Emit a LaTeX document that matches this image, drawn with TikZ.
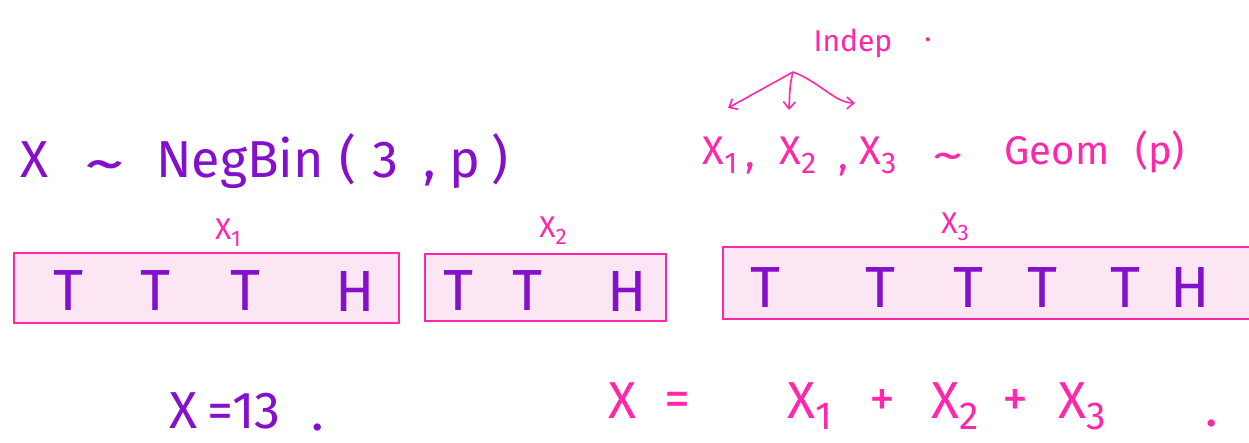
\documentclass[tikz,border=0pt]{standalone}
\usepackage{fontspec}
\usepackage{graphicx}
\setmainfont{Fira Sans}
\usetikzlibrary{arrows.meta}
\definecolor{hpurple}{RGB}{132,16,204}
\definecolor{hpink}{RGB}{255,40,170}
\definecolor{boxfill}{RGB}{253,230,244}
\newcommand\hsub[1]{\raisebox{-0.22em}{\scalebox{0.75}{#1}}}
\newcommand\htil{\raisebox{-0.25em}{\scalebox{1.6}[1.2]{\textasciitilde}}}
\begin{document}
\begin{tikzpicture}[x=1pt,y=-1pt,
  purp/.style={text=hpurple, inner sep=0pt, anchor=base},
  pinkt/.style={text=hpink, inner sep=0pt, anchor=base},
  big/.style={font=\fontsize{52}{52}\selectfont},
  mid/.style={font=\fontsize{40}{40}\selectfont},
  small/.style={font=\fontsize{30}{30}\selectfont},
  flipbox/.style={draw=hpink, fill=boxfill, line width=1.8pt, inner sep=0pt, anchor=north west},
  coin/.style={text=hpurple, inner sep=0pt, anchor=base, font=\fontsize{58}{58}\selectfont},
  arr/.style={draw=hpink, line width=1.6pt, -{Straight Barb[length=7pt,width=12pt]}}]
\useasboundingbox (0,0) rectangle (1249,443);
\fill[white] (0,0) rectangle (1249,443);

% top-left distribution
\node[purp,big] (nbX) at (35,178) {X};
\node[purp,big] (nbT) at (105,172) {\htil};
\node[purp,big] (nbN) at (240,178) {NegBin};
\node[purp,big] (nbL) at (348,178) {(};
\node[purp,big] (nb3) at (385,178) {3};
\node[purp,big] (nbC) at (430,178) {,};
\node[purp,big] (nbp) at (465,178) {p};
\node[purp,big] (nbR) at (500,178) {)};

% Indep and arrows
\node[pinkt,small] (indep) at (853,52) {Indep};
\node[pinkt,small] (indot) at (928,42) {.};
\coordinate (ia) at (793,72);
\coordinate (a1) at (728,108);
\coordinate (a2) at (789,110);
\coordinate (a3) at (855,103);
\draw[arr] (ia) -- (a1);
\draw[arr] (ia) .. controls (790,85) .. (a2);
\draw[arr] (ia) .. controls (820,82) and (835,103) .. (a3);

% geometric line
\node[pinkt,mid] (g1) at (720,165) {X\hsub{1}};
\node[pinkt,mid] (gc1) at (750,168) {,};
\node[pinkt,mid] (g2) at (798,165) {X\hsub{2}};
\node[pinkt,mid] (gc2) at (843,170) {,};
\node[pinkt,mid] (g3) at (878,165) {X\hsub{3}};
\node[pinkt,mid] (gt) at (948,162) {\htil};
\node[pinkt,mid] (gG) at (1057,165) {Geom};
\node[pinkt,mid] (gp) at (1160,165) {(p)};

% boxes
\node[flipbox, minimum width=385, minimum height=70] (b1) at (13,252) {};
\node[flipbox, minimum width=241, minimum height=67] (b2) at (424,253) {};
\node[flipbox, minimum width=545, minimum height=72] (b3) at (722,246) {};

% labels above boxes
\node[pinkt,small] (l1) at (228,240) {X\hsub{1}};
\node[pinkt,small] (l2) at (553,238) {X\hsub{2}};
\node[pinkt,small] (l3) at (955,234) {X\hsub{3}};

% box contents
\node[coin] (c11) at (68,310) {T};
\node[coin] (c12) at (155,310) {T};
\node[coin] (c13) at (245,310) {T};
\node[coin] (c14) at (355,312) {H};
\node[coin] (c21) at (458,310) {T};
\node[coin] (c22) at (527,310) {T};
\node[coin] (c23) at (627,312) {H};
\node[coin] (c31) at (765,308) {T};
\node[coin] (c32) at (880,308) {T};
\node[coin] (c33) at (968,308) {T};
\node[coin] (c34) at (1042,308) {T};
\node[coin] (c35) at (1125,308) {T};
\node[coin] (c36) at (1190,308) {H};

% bottom
\node[purp,big] (x13) at (225,428) {X\hspace{10pt}=13};
\node[purp,big] (x13d) at (318,430) {.};
\node[pinkt,big] (sX) at (623,418) {X};
\node[pinkt,big] (sEq) at (677,416) {=};
\node[pinkt,big] (s1) at (810,418) {X\hsub{1}};
\node[pinkt,big] (sp1) at (882,416) {+};
\node[pinkt,big] (s2) at (955,418) {X\hsub{2}};
\node[pinkt,big] (sp2) at (1015,416) {+};
\node[pinkt,big] (s3) at (1082,418) {X\hsub{3}};
\node[pinkt,big] (sd) at (1212,426) {.};
\end{tikzpicture}
\end{document}
